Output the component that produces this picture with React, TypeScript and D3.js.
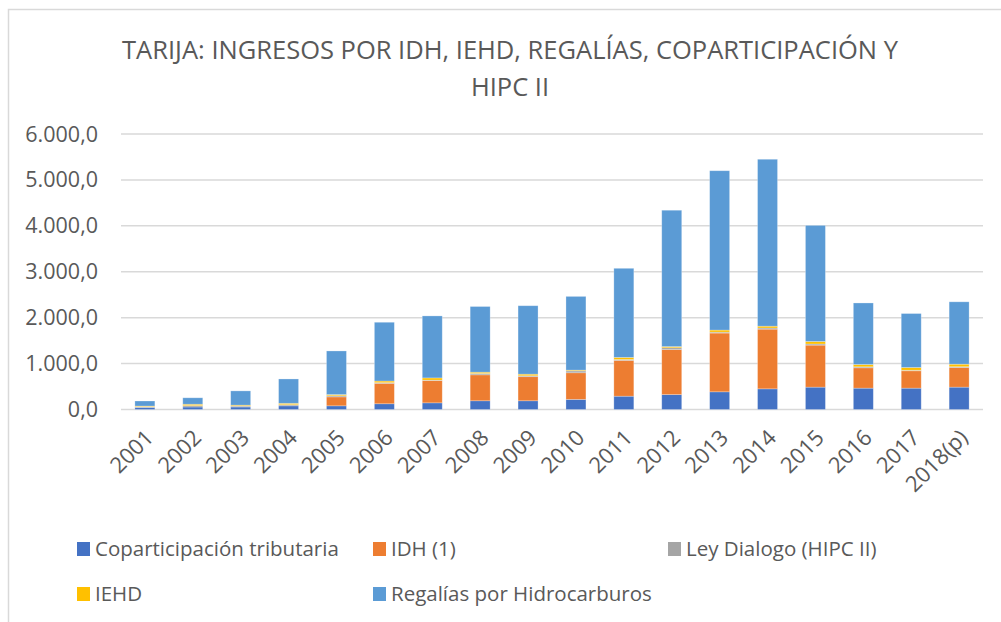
import React from "react";
import * as d3 from "d3";

const years = ["2001","2002","2003","2004","2005","2006","2007","2008","2009","2010","2011","2012","2013","2014","2015","2016","2017","2018(p)"];
const coparticipacion = [45,55,55,80,80,125,145,190,190,220,290,325,385,450,487,465,465,487];
const idh = [0,0,0,0,195,445,485,565,525,580,780,980,1280,1300,915,443,378,428];
const hipc = [15,30,20,25,25,15,10,30,20,40,20,40,20,25,25,22,12,17];
const iehd = [15,30,20,30,25,35,48,28,35,18,45,25,45,40,55,50,60,55];
const regalias = [110,140,310,530,950,1280,1350,1430,1490,1605,1940,2970,3470,3635,2528,1340,1175,1358];

const seriesNames = ["Coparticipación tributaria","IDH (1)","Ley Dialogo (HIPC II)","IEHD","Regalías por Hidrocarburos"];
const seriesColors = ["#4472c4","#ed7d31","#a5a5a5","#ffc000","#5b9bd5"];
const yTicks = [0,1000,2000,3000,4000,5000,6000];

const FONT = "'Open Sans', 'Noto Sans', sans-serif";
const TEXT = "#595959";

export default function App() {
  const seriesValues = [coparticipacion, idh, hipc, iehd, regalias];
  const rows = years.map((y, i) => {
    const r: any = { year: y };
    seriesNames.forEach((n, k) => (r[n] = seriesValues[k][i]));
    return r;
  });
  const stacked = d3.stack<any>().keys(seriesNames)(rows);

  const x = d3.scaleBand<string>().domain(years).range([121, 983]).paddingInner(0.583).paddingOuter(0.29);
  const y = d3.scaleLinear().domain([0, 6000]).range([409.5, 134]);
  const fmt = (v: number) => d3.format(",.1f")(v).replace(/,/g, "#").replace(".", ",").replace(/#/g, ".");

  const legendItems = [
    { i: 0, x: 77, y: 549 },
    { i: 1, x: 373, y: 549 },
    { i: 2, x: 668, y: 549 },
    { i: 3, x: 77, y: 594 },
    { i: 4, x: 373, y: 594 },
  ];

  return (
    <svg width={1001} height={622} style={{ position: "fixed", left: 0, top: 0, background: "#fff" }} fontFamily={FONT}>
      <rect x={0} y={0} width={1001} height={622} fill="#fff" />
      <rect x={8.5} y={9.5} width={1100} height={700} fill="none" stroke="#d9d9d9" strokeWidth={1.5} />
      <text x={510} y={59} textAnchor="middle" fontSize={25.5} fill={TEXT}>TARIJA: INGRESOS POR IDH, IEHD, REGALÍAS, COPARTICIPACIÓN Y</text>
      <text x={510} y={96} textAnchor="middle" fontSize={25.5} fill={TEXT}>HIPC II</text>
      {yTicks.map((t) => (
        <g key={t}>
          <line x1={121} x2={983} y1={y(t)} y2={y(t)} stroke="#d9d9d9" strokeWidth={1.5} />
          <text x={98} y={y(t)} dy="0.35em" textAnchor="end" fontSize={21.5} fill={TEXT}>{fmt(t)}</text>
        </g>
      ))}
      {stacked.map((s, k) => (
        <g key={k} fill={seriesColors[k]}>
          {s.map((d, i) => {
            const h = y(d[0]) - y(d[1]);
            if (h <= 0) return null;
            return (
              <rect key={i} x={x(years[i])} y={y(d[1])} width={x.bandwidth()} height={h}
                stroke="#ffffff" strokeOpacity={0.35} strokeWidth={0.75} />
            );
          })}
        </g>
      ))}
      {years.map((yr) => {
        const cx = (x(yr) as number) + x.bandwidth() / 2 + 10;
        const cy = 439;
        return (
          <text key={yr} x={cx} y={cy} textAnchor="end" fontSize={22} fill={TEXT}
            transform={`rotate(-45 ${cx} ${cy})`}>{yr}</text>
        );
      })}
      {legendItems.map((l) => (
        <g key={l.i}>
          <rect x={l.x} y={l.y - 7} width={13} height={14} fill={seriesColors[l.i]} />
          <text x={l.x + 18} y={l.y} dy="0.35em" fontSize={20.5} fill={TEXT}>{seriesNames[l.i]}</text>
        </g>
      ))}
    </svg>
  );
}
